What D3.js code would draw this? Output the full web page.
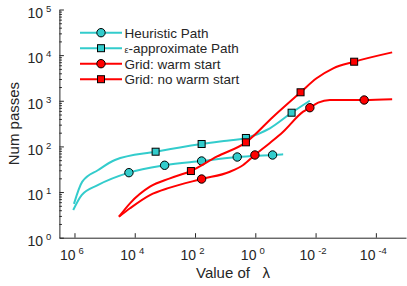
<!DOCTYPE html>
<html>
<head>
<meta charset="utf-8">
<script src="https://cdn.jsdelivr.net/npm/d3@7"></script>
<style>
  body { margin: 0; background: #fff; }
  text { font-family: "Liberation Sans", Arial, Helvetica, sans-serif; fill: #262626; }
</style>
</head>
<body>
<svg id="chart"></svg>
<script>
// chart size
const width = 407;
const height = 286;

// Heuristic Path (cyan, circles)
const heurLambda = [1.1e6, 5.77e5, 1.63e5, 1.56e4, 1020, 60.4, 3.98, 0.267, 0.119];
const heurPasses = [4.05, 8.6, 14.3, 26.6, 38.6, 47.9, 58.6, 64.9, 67.2];
const heurMarks = [3, 4, 5, 6, 7];

// eps-approximate Path (cyan, squares)
const epsLambda = [1.04e6, 5.5e5, 1.63e5, 4.54e4, 2030, 60.4, 11, 2.05, 0.328, 0.0625, 0.0155];
const epsPasses = [5.5, 16.9, 30.4, 50.4, 76.6, 113, 131, 153, 250, 548, 1004];
const epsMarks = [4, 5, 7, 9];

// Grid: warm start (red, circles)
const warmLambda = [3.34e4, 1.44e4, 3130, 681, 60.4, 6.95, 2.52, 1.03, 0.328, 0.119, 0.0258, 0.0155, 0.0082, 0.00336, 2.44e-4, 2.88e-5];
const warmPasses = [2.88, 4.41, 8.6, 12.5, 19.3, 27.9, 39.2, 64.9, 119, 210, 577, 705, 908, 1040, 1040, 1077];
const warmMarks = [4, 7, 11, 14];

// Grid: no warm start (red, squares)
const coldLambda = [3.34e4, 1.44e4, 3130, 681, 137, 19.2, 2.05, 0.255, 0.0315, 0.00927, 0.0026, 5.25e-4, 2.88e-5];
const coldPasses = [2.88, 5.67, 13.1, 20, 28.9, 59.5, 123, 448, 1535, 3110, 5150, 7180, 11500];
const coldMarks = [4, 6, 8, 11];

// axis ticks
const xTicks = [1e6, 1e4, 1e2, 1e0, 1e-2, 1e-4];
const yTicks = [1e0, 1e1, 1e2, 1e3, 1e4, 1e5];

const legendLabels = ["Heuristic Path", "-approximate Path", "Grid: warm start", "Grid: no warm start"];

const cyan = "#33cccc";
const red = "#ff0000";

const svg = d3.select("#chart")
    .attr("width", width)
    .attr("height", height);

const x = d3.scaleLog()
    .domain([Math.pow(10, 6.5), 1e-5])
    .range([59.4, 406]);

const y = d3.scaleLog()
    .domain([1, 1e5])
    .range([237.7, 9.5]);

// y minor ticks
const yMinor = [];
for (let e = 0; e < 5; e++) {
    for (let m = 2; m <= 9; m++) yMinor.push(m * Math.pow(10, e));
}

svg.append("g")
    .attr("transform", "translate(59.4,0)")
    .call(d3.axisLeft(y).tickValues(yMinor).tickSizeInner(-2.5).tickSizeOuter(0).tickFormat(""))
    .call(g => g.select(".domain").remove())
    .selectAll("line").attr("stroke", "#262626");

// exponent style tick labels: 10 with superscript
function powerLabel(sel, isY) {
    sel.selectAll(".tick text").each(function(d) {
        const e = Math.round(Math.log10(d));
        const t = d3.select(this).text(null)
            .attr("font-size", 14);
        t.append("tspan").text("10");
        t.append("tspan").text(e)
            .attr("font-size", 9.5)
            .attr("dx", 3)
            .attr("dy", -6);
        if (isY) t.attr("dy", "0.55em");
        else t.attr("dy", "0.71em").attr("dx", -3);
    });
}

const yAxis = svg.append("g")
    .attr("transform", "translate(59.4,0)")
    .call(d3.axisLeft(y).tickValues(yTicks).tickSizeInner(-4.5).tickSizeOuter(0).tickPadding(8))
    .call(g => powerLabel(g, true));

const xAxis = svg.append("g")
    .attr("transform", "translate(0,237.7)")
    .call(d3.axisBottom(x).tickValues(xTicks).tickSizeInner(-4.5).tickSizeOuter(0).tickPadding(12))
    .call(g => powerLabel(g, false));

svg.selectAll(".domain, .tick line").attr("stroke", "#262626");
svg.selectAll(".tick text").attr("fill", "#262626");

// axis titles
svg.append("text")
    .attr("transform", "translate(19,123.6) rotate(-90)")
    .attr("text-anchor", "middle")
    .attr("font-size", 15)
    .text("Num passes");

svg.append("text")
    .attr("x", 233)
    .attr("y", 278)
    .attr("text-anchor", "middle")
    .attr("font-size", 15)
    .style("white-space", "pre")
    .text("Value of   λ");

// series
const series = [
    { lambda: heurLambda, passes: heurPasses, marks: heurMarks, color: cyan, shape: "circle" },
    { lambda: epsLambda, passes: epsPasses, marks: epsMarks, color: cyan, shape: "square" },
    { lambda: warmLambda, passes: warmPasses, marks: warmMarks, color: red, shape: "circle" },
    { lambda: coldLambda, passes: coldPasses, marks: coldMarks, color: red, shape: "square" }
];

const line = d3.line()
    .x(d => x(d[0]))
    .y(d => y(d[1]))
    .curve(d3.curveMonotoneX);

function drawMarker(g, cx, cy, s) {
    if (s.shape === "circle") {
        g.append("circle")
            .attr("cx", cx).attr("cy", cy).attr("r", 4.2)
            .attr("fill", s.color).attr("stroke", "#000").attr("stroke-width", 1);
    } else {
        g.append("rect")
            .attr("x", cx - 3.5).attr("y", cy - 3.5)
            .attr("width", 7).attr("height", 7)
            .attr("fill", s.color).attr("stroke", "#000").attr("stroke-width", 1);
    }
}

series.forEach(s => {
    const pts = s.lambda.map((l, i) => [l, s.passes[i]]);
    const g = svg.append("g");
    g.append("path")
        .attr("d", line(pts))
        .attr("fill", "none")
        .attr("stroke", s.color)
        .attr("stroke-width", 2);
    s.marks.forEach(i => drawMarker(g, x(pts[i][0]), y(pts[i][1]), s));
});

// legend
const legend = svg.append("g");
const legendY = [32.7, 48.2, 63.7, 79.2];
series.forEach((s, i) => {
    const g = legend.append("g");
    g.append("line")
        .attr("x1", 80).attr("x2", 122)
        .attr("y1", legendY[i]).attr("y2", legendY[i])
        .attr("stroke", s.color).attr("stroke-width", 2);
    drawMarker(g, 101, legendY[i], s);
    const t = g.append("text")
        .attr("x", 124.5)
        .attr("y", legendY[i])
        .attr("dy", "0.36em")
        .attr("font-size", 13.5);
    if (i === 1) t.append("tspan").attr("font-size", 9).text("ε");
    t.append("tspan").text(legendLabels[i]);
});
</script>
</body>
</html>
